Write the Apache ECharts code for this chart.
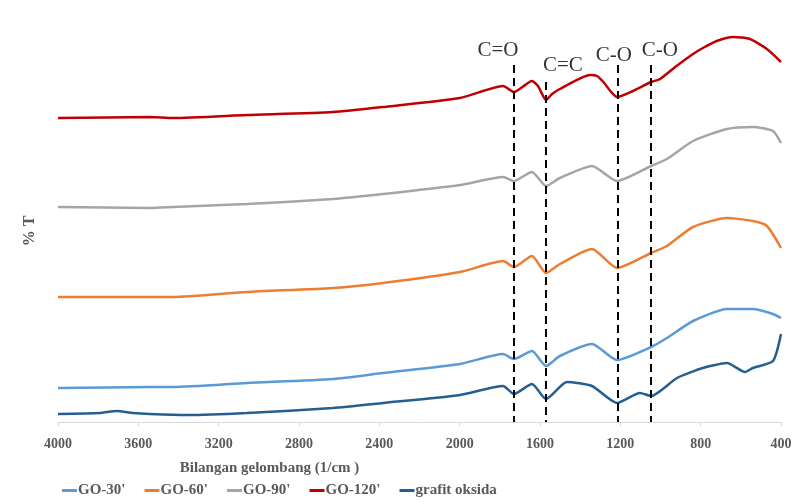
<!DOCTYPE html>
<html>
<head>
<meta charset="utf-8">
<script src="https://cdn.jsdelivr.net/npm/echarts@6/dist/echarts.min.js"></script>
<style>html,body{margin:0;padding:0;background:#fff}#c{width:804px;height:504px}</style>
</head>
<body>
<div id="c"></div>
<script>
// wavenumber (1/cm) vs offset %T values
const seriesNames = ["GO-30'", "GO-60'", "GO-90'", "GO-120'", "grafit oksida"];
const xTicks = [4000, 3600, 3200, 2800, 2400, 2000, 1600, 1200, 800, 400];

const go120 = [[4000,304],[3542,305],[3427,304],[3059,307],[2631,310],[2382,315],[1998,324],[1784,336],[1730,330],[1640,341],[1610,336],[1570,322],[1540,328],[1501,333],[1351,347],[1316,346],[1280,339],[1250,331],[1217,325],[1137,331],[1047,340],[1002,343],[920,356],[838,368],[789,374],[720,381],[639,385],[555,383],[470,373],[400,360]];
const go90 = [[4000,215],[3542,214],[3427,215],[3059,218],[2631,223],[2382,228],[1998,237],[1784,245],[1730,241],[1640,250],[1570,236],[1501,244],[1341,256],[1217,241],[1047,256],[968,263],[838,281],[669,293],[540,295],[440,291],[400,279]];
const go60 = [[4000,125],[3542,125],[3427,125],[3059,130],[2631,134],[2382,139],[1998,150],[1784,161],[1730,155],[1640,166],[1570,149],[1501,158],[1341,173],[1217,154],[1047,169],[968,176],[838,195],[669,204],[540,201],[470,196],[400,174]];
const go30 = [[4000,34],[3542,35],[3427,35],[3059,39],[2631,43],[2382,49],[1998,58],[1784,68],[1730,63],[1640,71],[1570,56],[1501,66],[1341,78],[1217,62],[1047,75],[968,84],[838,101],[669,113],[540,113],[440,108],[400,104]];
const grafit = [[4000,8],[3791,9],[3706,11],[3627,9],[3542,8],[3358,7],[3059,9],[2631,14],[2382,19],[1998,27],[1784,36],[1730,28],[1640,38],[1570,23],[1466,40],[1341,36],[1217,19],[1102,29],[1047,26],[918,44],[789,54],[669,59],[579,50],[540,54],[440,61],[400,88]];

const peakPositions = [1730, 1570, 1215, 1050];
const peakTops = [357, 340, 357, 357];
const peakLabels = ['C=O', 'C=C', 'C-O', 'C-O'];
const peakLabelPos = [[1809, 372], [1486, 357], [1232, 367], [1003, 372]];

const colors = ['#5B9BD5', '#ED7D31', '#A5A5A5', '#C00000', '#255E91'];
const dataSets = [go30, go60, go90, go120, grafit];
const serif = '"Liberation Serif", "Times New Roman", serif';

const series = dataSets.map((d, i) => ({
  name: seriesNames[i], type: 'line', data: d, symbol: 'none', smooth: 0.2,
  lineStyle: { width: 2.5, color: colors[i] }, itemStyle: { color: colors[i] }, z: 3
}));

series.push({
  name: 'peaks', type: 'line', data: [], symbol: 'none',
  markLine: {
    silent: true, symbol: 'none', label: { show: false },
    lineStyle: { color: '#000', type: [8, 5], width: 2 },
    data: peakPositions.map((p, i) => [{ coord: [p, peakTops[i]] }, { coord: [p, 0] }])
  }
});
series.push({
  name: 'labels', type: 'scatter', symbolSize: 0, silent: true,
  data: peakLabelPos.map((p, i) => ({ value: p, name: peakLabels[i] })),
  label: { show: true, position: 'inside', formatter: p => p.name, color: '#000', fontFamily: serif, fontSize: 21 }
});

const chart = echarts.init(document.getElementById('c'));
chart.setOption({
  animation: false,
  backgroundColor: '#fff',
  grid: { left: 58, right: 23, top: 22, bottom: 82 },
  xAxis: {
    type: 'value', min: 400, max: 4000, interval: 400, inverse: true,
    name: 'Bilangan gelombang (1/cm )', nameLocation: 'middle', nameGap: 39,
    nameTextStyle: { fontFamily: serif, fontWeight: 'bold', fontSize: 15, color: '#595959', padding: [0, 300, 0, 0] },
    axisLine: { lineStyle: { color: '#D9D9D9', width: 1 } },
    axisTick: { show: true, length: 4, lineStyle: { color: '#D9D9D9' } },
    axisLabel: { fontFamily: serif, fontWeight: 'bold', fontSize: 14, color: '#595959', margin: 15,
      formatter: v => String(v) },
    splitLine: { show: false }
  },
  yAxis: {
    type: 'value', min: 0, max: 400,
    name: '% T', nameLocation: 'middle', nameGap: 20, nameRotate: 90,
    nameTextStyle: { fontFamily: serif, fontWeight: 'bold', fontSize: 16, color: '#595959', padding: [0, 0, 0, -18] },
    axisLine: { show: false }, axisTick: { show: false }, axisLabel: { show: false }, splitLine: { show: false }
  },
  legend: {
    data: seriesNames, left: 57, top: 478, icon: 'rect', itemWidth: 15, itemHeight: 3, itemGap: 19,
    textStyle: { fontFamily: serif, fontWeight: 'bold', fontSize: 15, color: '#595959', padding: [0, 0, 0, -4] }
  },
  series: series
});
</script>
</body>
</html>
